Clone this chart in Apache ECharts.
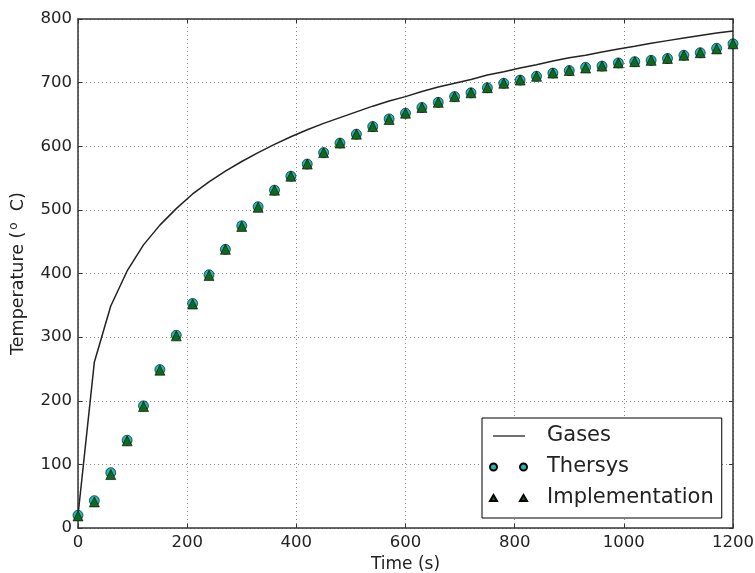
<!DOCTYPE html>
<html>
<head>
<meta charset="utf-8">
<script src="https://cdn.jsdelivr.net/npm/echarts@6/dist/echarts.min.js"></script>
<style>
  html, body { margin: 0; padding: 0; background: #fff; }
  #main { width: 755px; height: 573px; }
</style>
</head>
<body>
<div id="main"></div>
<script>
// time steps (s)
const timeS = [0, 30, 60, 90, 120, 150, 180, 210, 240, 270, 300, 330, 360, 390, 420, 450, 480, 510, 540, 570,
  600, 630, 660, 690, 720, 750, 780, 810, 840, 870, 900, 930, 960, 990, 1020, 1050, 1080, 1110, 1140, 1170, 1200];

// gas temperature curve (°C)
const gases = [20, 261, 349, 404, 445, 476, 502, 525, 544, 561, 576, 590, 603, 615, 626, 636, 645, 654, 663, 671,
  678, 686, 693, 699, 705, 712, 717, 723, 728, 734, 739, 743, 748, 753, 757, 762, 766, 770, 774, 778, 781];

// Thersys results (°C)
const thersys = [20, 43, 87, 138, 192, 249, 303, 353, 398, 438, 475, 505, 531, 553, 572, 590, 605, 619, 631, 643,
  652, 661, 669, 678, 684, 692, 699, 704, 710, 715, 719, 724, 726, 731, 733, 735, 738, 743, 747, 754, 761];

// implementation results (°C)
const implementation = [19, 41, 84, 137, 191, 248, 302, 352, 397, 438, 474, 504, 531, 553, 572, 590, 605, 619, 631, 642,
  652, 661, 669, 678, 684, 692, 699, 704, 710, 715, 719, 723, 726, 731, 733, 735, 738, 743, 747, 753, 761];

const xTicks = { min: 0, max: 1200, interval: 200 };
const yTicks = { min: 0, max: 800, interval: 100 };

const pairs = (vals) => timeS.map((t, i) => [t, vals[i]]);

const font = 'DejaVu Sans';
const frame = { show: true, onZero: false, lineStyle: { color: '#333', width: 1.5 } };
const ticks = { show: true, inside: true, length: 4, lineStyle: { color: '#333' } };
const grid = { show: true, lineStyle: { color: '#8a8a8a', type: [1, 3], width: 1 } };
const plain = (v) => String(v);

// legend icons: two markers like matplotlib (numpoints = 2)
const lineIcon = 'path://M0,0M37,12M3,5.3h32v1.4h-32z';
const twoCircles = 'path://M0,0M37,12M0,6a3.5,3.5 0 1,0 7,0a3.5,3.5 0 1,0 -7,0M30,6a3.5,3.5 0 1,0 7,0a3.5,3.5 0 1,0 -7,0';
const twoTriangles = 'path://M0,0M37,12M0,9L3.5,3L7,9ZM30,9L33.5,3L37,9Z';

const chart = echarts.init(document.getElementById('main'));

chart.setOption({
  backgroundColor: '#fff',
  animation: false,
  textStyle: { fontFamily: font },
  grid: { left: 78, right: 22, top: 19, bottom: 45, containLabel: false, outerBoundsMode: 'none' },
  xAxis: [{
    type: 'value', ...xTicks,
    name: 'Time (s)', nameLocation: 'middle', nameGap: 28,
    nameTextStyle: { fontSize: 17, color: '#222', fontFamily: font },
    axisLine: frame, axisTick: ticks,
    axisLabel: { fontSize: 16.5, color: '#222', margin: 6, fontFamily: font, formatter: plain },
    splitLine: grid
  }, {
    type: 'value', ...xTicks, position: 'top',
    axisLine: frame, axisTick: ticks,
    axisLabel: { show: false }, splitLine: { show: false }
  }],
  yAxis: [{
    type: 'value', ...yTicks,
    name: '{a|Temperature (}{s|o}{a|  C)}', nameLocation: 'middle', nameGap: 50,
    nameTextStyle: {
      fontFamily: font, color: '#222',
      rich: {
        a: { fontSize: 17.5, color: '#222', fontFamily: font, lineHeight: 20 },
        s: { fontSize: 12, color: '#222', fontFamily: font, verticalAlign: 'top', lineHeight: 20, padding: [0, 0, 0, 2] }
      }
    },
    axisLine: frame, axisTick: ticks,
    axisLabel: { fontSize: 16.5, color: '#222', margin: 6, fontFamily: font, formatter: plain },
    splitLine: grid
  }, {
    type: 'value', ...yTicks, position: 'right',
    axisLine: frame, axisTick: ticks,
    axisLabel: { show: false }, splitLine: { show: false }
  }],
  legend: {
    orient: 'vertical',
    left: 482, top: 418,
    padding: [7, 8, 9, 7],
    itemWidth: 37, itemHeight: 12, itemGap: 9,
    backgroundColor: '#fff',
    borderColor: '#000', borderWidth: 1, borderRadius: 0,
    textStyle: { fontSize: 21, color: '#222', fontFamily: font, lineHeight: 22, padding: [0, 0, 0, 15] },
    data: [
      { name: 'Gases', icon: lineIcon },
      { name: 'Thersys', icon: twoCircles },
      { name: 'Implementation', icon: twoTriangles }
    ]
  },
  series: [{
    name: 'Gases',
    type: 'line',
    data: pairs(gases),
    showSymbol: false,
    symbol: 'none',
    lineStyle: { color: '#222', width: 1.5 },
    itemStyle: { color: '#333' },
    z: 2
  }, {
    name: 'Thersys',
    type: 'scatter',
    data: pairs(thersys),
    symbol: 'circle',
    symbolSize: 10,
    itemStyle: { color: '#1fb8b8', borderColor: '#000', borderWidth: 0.6, opacity: 1 },
    z: 3
  }, {
    name: 'Implementation',
    type: 'scatter',
    data: pairs(implementation),
    symbol: 'triangle',
    symbolSize: 10,
    itemStyle: { color: '#0e6a1e', borderColor: '#000', borderWidth: 0.6, opacity: 1 },
    z: 4
  }]
});
</script>
</body>
</html>
